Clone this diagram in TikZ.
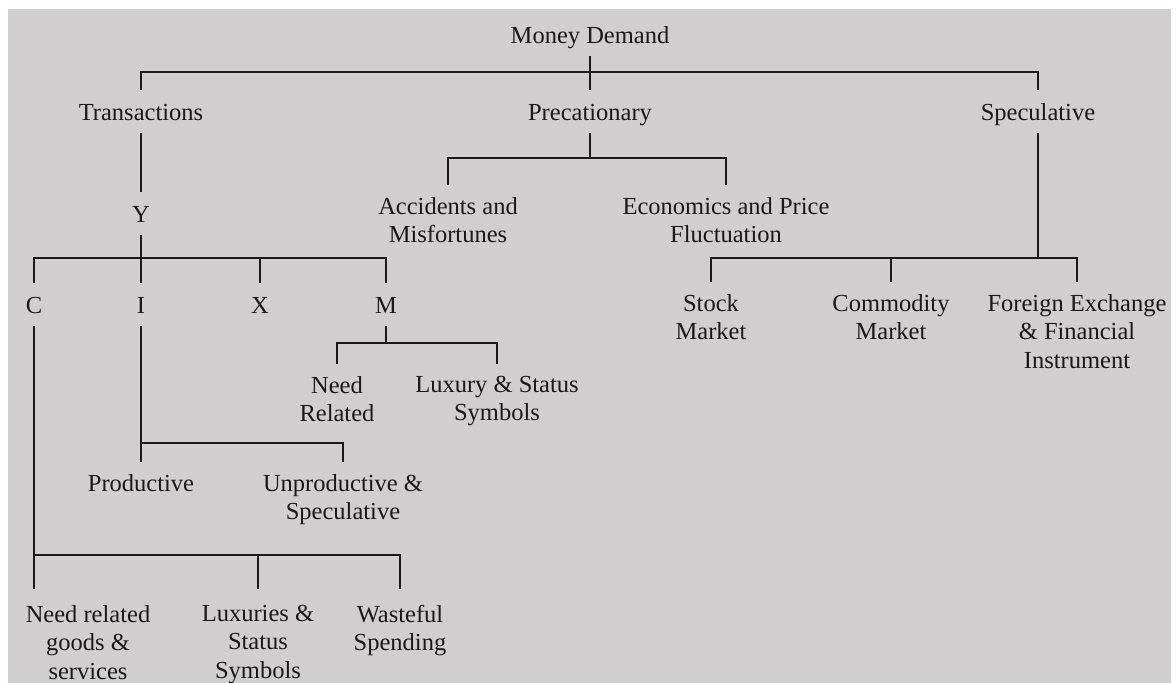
\documentclass[tikz,border=0pt]{standalone}
\usepackage{fontspec}
\setmainfont{Liberation Serif}
\definecolor{bg}{RGB}{208,206,207}
\definecolor{ink}{RGB}{25,25,25}
\begin{document}
\begin{tikzpicture}[x=1pt,y=-1pt,
  lbl/.style={font=\fontsize{24.5}{28.5}\selectfont, text=ink, inner sep=0pt, align=center, outer ysep=12pt},
  one/.style={lbl, text height=18pt, text depth=0pt, anchor=base, outer ysep=12.5pt},
  multi/.style={lbl, anchor=north},
  low/.style={multi, outer ysep=16pt},
  link/.style={draw=ink, line width=1.3pt}]
\useasboundingbox (0,0) rectangle (1176,683);
\fill[white] (0,0) rectangle (1176,683);
\fill[bg] (8,9) rectangle (1171,683);

% level 0 and 1
\node[one] (md) at (590,43) {Money Demand};
\node[one] (tr) at (141,120) {Transactions};
\node[one] (prec) at (590,120) {Precationary};
\node[one] (spec) at (1038,120) {Speculative};

% transactions branch
\node[one] (y) at (141,222) {Y};
\node[one] (c) at (34,313) {C};
\node[one] (i) at (141,313) {I};
\node[one] (x) at (260,313) {X};
\node[one] (m) at (386,313) {M};

% precautionary branch
\node[multi] (acc) at (448,185) {Accidents and\\Misfortunes};
\node[multi] (eco) at (726,185) {Economics and Price\\Fluctuation};

% speculative branch
\node[multi] (stk) at (711,282) {Stock\\Market};
\node[multi] (com) at (891,282) {Commodity\\Market};
\node[multi] (fx) at (1077,282) {Foreign Exchange\\\& Financial\\Instrument};

% M children
\node[multi] (nr) at (337,364) {Need\\Related};
\node[multi] (lxs) at (497,364) {Luxury \& Status\\Symbols};

% I children
\node[multi] (prod) at (141,462) {Productive};
\node[multi] (unp) at (343,462) {Unproductive \&\\Speculative};

% C children
\node[low] (ngs) at (88,589) {Need related\\goods \&\\services};
\node[low] (lux) at (258,589) {Luxuries \&\\Status\\Symbols};
\node[low] (wst) at (400,589) {Wasteful\\Spending};

% junctions
\coordinate (tbar) at (590,72);
\coordinate (pbar) at (590,158);
\coordinate (sbar) at (1038,258);
\coordinate (ybar) at (141,258);
\coordinate (mbar) at (386,343);
\coordinate (ibar) at (141,443);
\coordinate (cbar) at (34,555);

% connectors
\draw[link] (md.south) -- (prec.north);
\draw[link] (tr.north) |- (tbar) -| (spec.north);

\draw[link] (tr.south) -- (y.north);
\draw[link] (y.south) -- (i.north);
\draw[link] (c.north) |- (ybar) -| (m.north);
\draw[link] (x.north) -- (x.north |- ybar);

\draw[link] (prec.south) -- (pbar);
\draw[link] (acc.north) |- (pbar) -| (eco.north);

\draw[link] (spec.south) -- (sbar);
\draw[link] (stk.north) |- (sbar) -| (fx.north);
\draw[link] (com.north) -- (com.north |- sbar);

\draw[link] (m.south) -- (mbar);
\draw[link] (nr.north) |- (mbar) -| (lxs.north);

\draw[link] (i.south) -- (prod.north);
\draw[link] (ibar) -| (unp.north);

\draw[link] (c.south) -- (cbar) -| (wst.north);
\draw[link] (cbar) -- (cbar |- ngs.north);
\draw[link] (lux.north) -- (lux.north |- cbar);
\end{tikzpicture}
\end{document}
